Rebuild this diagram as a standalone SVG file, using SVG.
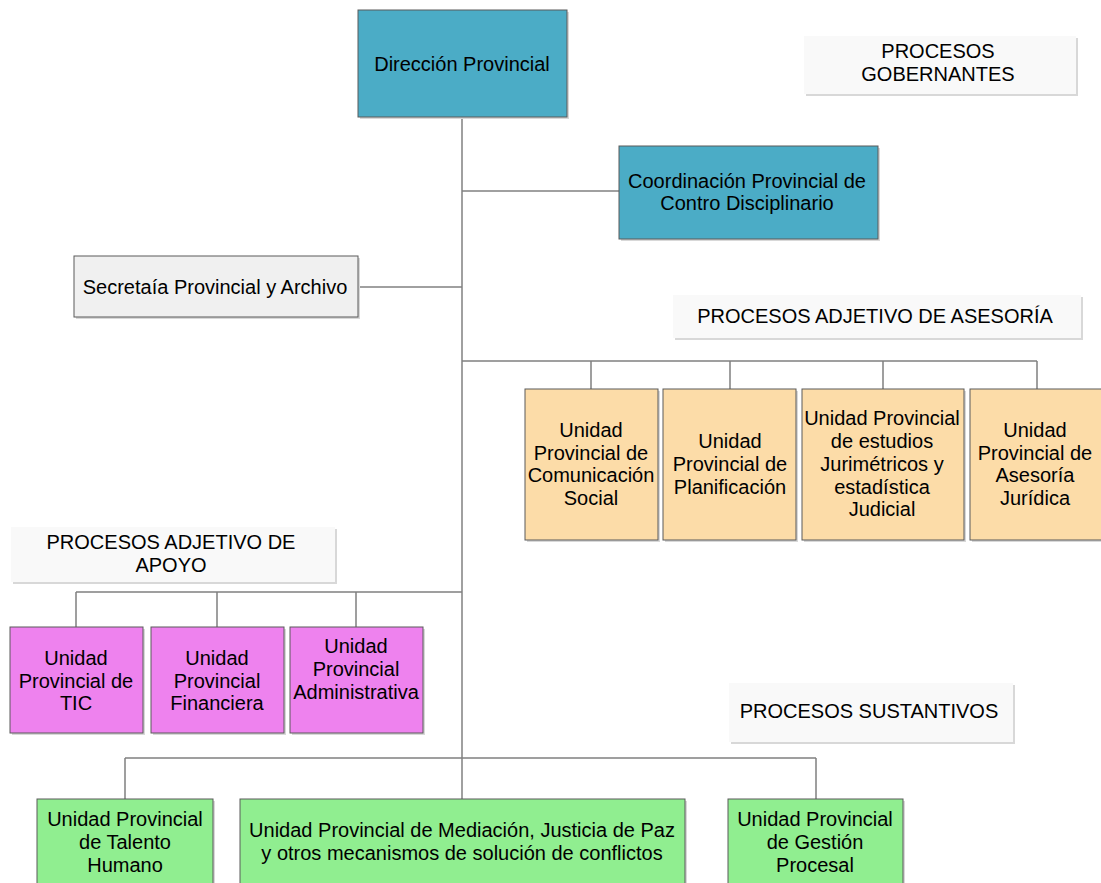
<svg xmlns="http://www.w3.org/2000/svg" width="1101" height="883" viewBox="0 0 1101 883">
<style>
.t{font-family:"Liberation Sans",Arial,sans-serif;font-size:20px;fill:#000;text-anchor:middle}
.b{stroke:#5a5a5a;stroke-width:1}
.sh{fill:#d8d8d8}
.lab{fill:#f9f9f9}
.c{stroke:#808080;stroke-width:1.5;fill:none}
.blue{fill:#4bacc6}
.gray{fill:#f0f0f0}
.org{fill:#fcdca8}
.pink{fill:#ee82ee}
.grn{fill:#90ee90}
</style>
<rect width="1101" height="883" fill="#fff"/>
<g id="connectors">
<path class="c" d="M462 117V799"/>
<path class="c" d="M462 191H619"/>
<path class="c" d="M358 287H462"/>
<path class="c" d="M462 361H1037M591 361V389M730 361V389M883 361V389M1037 361V389"/>
<path class="c" d="M76 592H462M76 592V627M217 592V627M356 592V627"/>
<path class="c" d="M125 758H816M125 758V799M816 758V799"/>
</g>
<g id="lbl-gobernantes">
<rect class="sh" x="806" y="38" width="272" height="58"/>
<rect class="lab" x="804" y="36" width="272" height="58"/>
<text class="t" x="938" y="58">PROCESOS</text>
<text class="t" x="938" y="81">GOBERNANTES</text>
</g>
<g id="lbl-asesoria">
<rect class="sh" x="675" y="297" width="408" height="43"/>
<rect class="lab" x="673" y="295" width="408" height="43"/>
<text class="t" x="875" y="323">PROCESOS ADJETIVO DE ASESORÍA</text>
</g>
<g id="lbl-apoyo">
<rect class="sh" x="13" y="529" width="324" height="55"/>
<rect class="lab" x="11" y="527" width="324" height="55"/>
<text class="t" x="171" y="549">PROCESOS ADJETIVO DE</text>
<text class="t" x="171" y="572">APOYO</text>
</g>
<g id="lbl-sustantivos">
<rect class="sh" x="731" y="685" width="284" height="59"/>
<rect class="lab" x="729" y="683" width="284" height="59"/>
<text class="t" x="869" y="718">PROCESOS SUSTANTIVOS</text>
</g>
<g id="n-direccion">
<rect class="sh" x="360" y="12" width="209" height="107"/>
<rect class="blue b" x="358" y="10" width="209" height="107"/>
<text class="t" x="462" y="71">Dirección Provincial</text>
</g>
<g id="n-coordinacion">
<rect class="sh" x="621" y="148" width="259" height="93"/>
<rect class="blue b" x="619" y="146" width="259" height="93"/>
<text class="t" x="747" y="188">Coordinación Provincial de</text>
<text class="t" x="747" y="210">Contro Disciplinario</text>
</g>
<g id="n-secretaria">
<rect class="sh" x="76" y="258" width="284" height="61"/>
<rect class="gray b" x="74" y="256" width="284" height="61"/>
<text class="t" x="215" y="294">Secretaía Provincial y Archivo</text>
</g>
<g id="n-comunicacion">
<rect class="sh" x="527" y="391" width="133" height="151"/>
<rect class="org b" x="525" y="389" width="133" height="151"/>
<text class="t" x="591" y="437">Unidad</text>
<text class="t" x="591" y="460">Provincial de</text>
<text class="t" x="591" y="482">Comunicación</text>
<text class="t" x="591" y="505">Social</text>
</g>
<g id="n-planificacion">
<rect class="sh" x="665" y="391" width="133" height="151"/>
<rect class="org b" x="663" y="389" width="133" height="151"/>
<text class="t" x="730" y="448">Unidad</text>
<text class="t" x="730" y="471">Provincial de</text>
<text class="t" x="730" y="494">Planificación</text>
</g>
<g id="n-estudios">
<rect class="sh" x="804" y="391" width="162" height="151"/>
<rect class="org b" x="802" y="389" width="162" height="151"/>
<text class="t" x="882" y="425">Unidad Provincial</text>
<text class="t" x="882" y="448">de estudios</text>
<text class="t" x="882" y="471">Jurimétricos y</text>
<text class="t" x="882" y="494">estadística</text>
<text class="t" x="882" y="516">Judicial</text>
</g>
<g id="n-asesoria">
<rect class="sh" x="972" y="391" width="133" height="151"/>
<rect class="org b" x="970" y="389" width="135" height="151"/>
<text class="t" x="1035" y="437">Unidad</text>
<text class="t" x="1035" y="460">Provincial de</text>
<text class="t" x="1035" y="482">Asesoría</text>
<text class="t" x="1035" y="505">Jurídica</text>
</g>
<g id="n-tic">
<rect class="sh" x="12" y="629" width="133" height="106"/>
<rect class="pink b" x="10" y="627" width="133" height="106"/>
<text class="t" x="76" y="665">Unidad</text>
<text class="t" x="76" y="688">Provincial de</text>
<text class="t" x="76" y="710">TIC</text>
</g>
<g id="n-financiera">
<rect class="sh" x="153" y="629" width="133" height="106"/>
<rect class="pink b" x="151" y="627" width="133" height="106"/>
<text class="t" x="217" y="665">Unidad</text>
<text class="t" x="217" y="688">Provincial</text>
<text class="t" x="217" y="710">Financiera</text>
</g>
<g id="n-administrativa">
<rect class="sh" x="292" y="629" width="133" height="106"/>
<rect class="pink b" x="290" y="627" width="133" height="106"/>
<text class="t" x="356" y="653">Unidad</text>
<text class="t" x="356" y="676">Provincial</text>
<text class="t" x="356" y="699">Administrativa</text>
</g>
<g id="n-talento">
<rect class="sh" x="39" y="801" width="176" height="90"/>
<rect class="grn b" x="37" y="799" width="176" height="90"/>
<text class="t" x="125" y="826">Unidad Provincial</text>
<text class="t" x="125" y="849">de Talento</text>
<text class="t" x="125" y="872">Humano</text>
</g>
<g id="n-mediacion">
<rect class="sh" x="242" y="801" width="445" height="90"/>
<rect class="grn b" x="240" y="799" width="445" height="90"/>
<text class="t" x="462" y="837">Unidad Provincial de Mediación, Justicia de Paz</text>
<text class="t" x="462" y="860">y otros mecanismos de solución de conflictos</text>
</g>
<g id="n-gestion">
<rect class="sh" x="730" y="801" width="175" height="90"/>
<rect class="grn b" x="728" y="799" width="175" height="90"/>
<text class="t" x="815" y="826">Unidad Provincial</text>
<text class="t" x="815" y="849">de Gestión</text>
<text class="t" x="815" y="872">Procesal</text>
</g>
</svg>
